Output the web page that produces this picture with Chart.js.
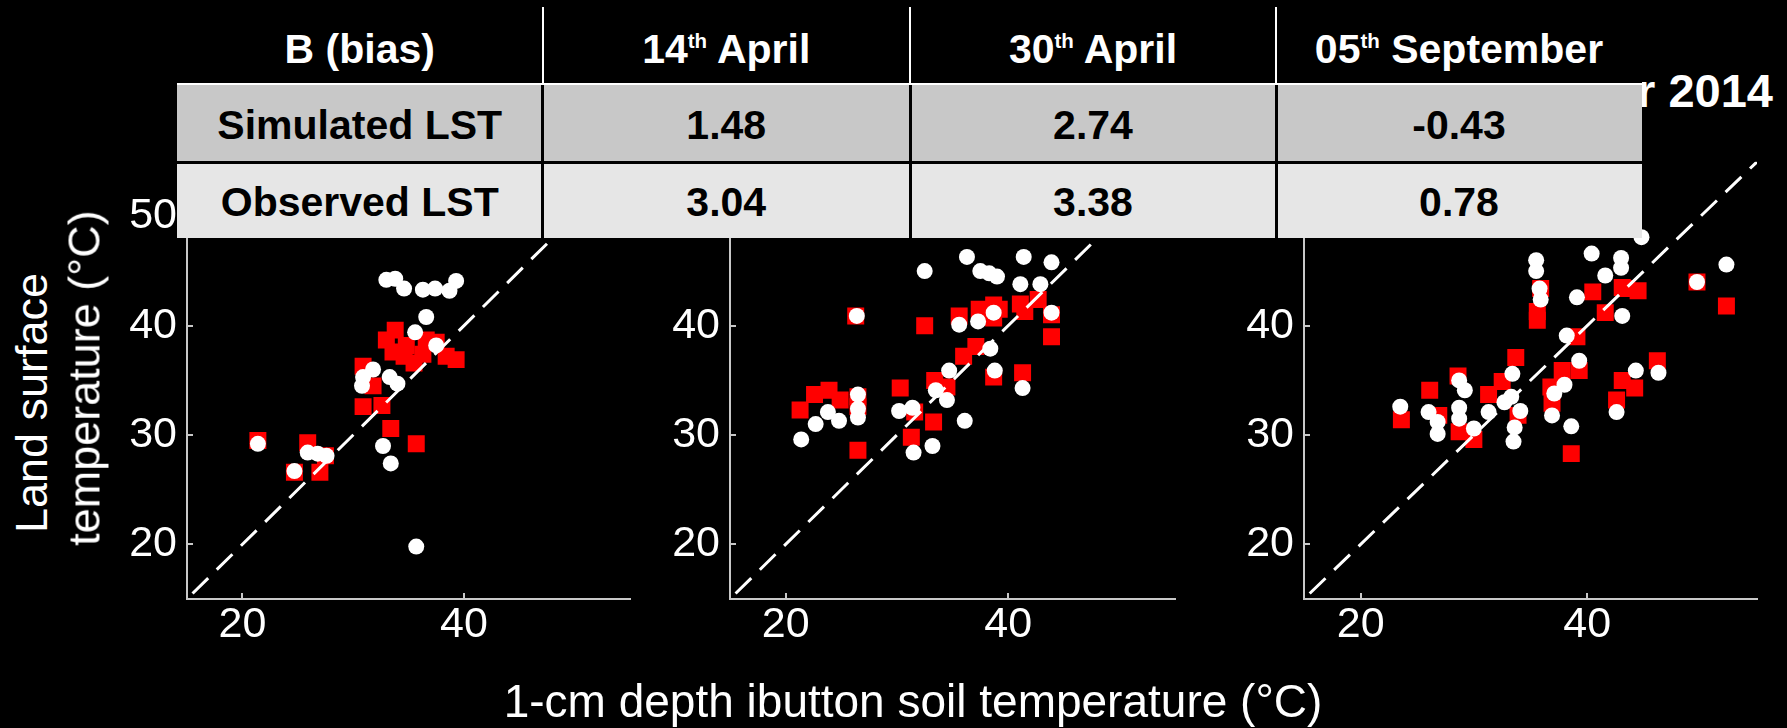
<!DOCTYPE html>
<html>
<head>
<meta charset="utf-8">
<title>LST vs ibutton soil temperature</title>
<script src="https://cdn.jsdelivr.net/npm/chart.js@4.4.0/dist/chart.umd.min.js"></script>
<style>
  html, body { margin: 0; padding: 0; background: #000; }
  body { width: 1787px; height: 728px; position: relative; overflow: hidden; font-family: "Liberation Sans", Arial, sans-serif; }
  canvas.panel { position: absolute; }
  .txt { position: absolute; color: #fff; white-space: nowrap; line-height: 1; }
  #bias { position: absolute; left: 0; top: 0; width: 1787px; height: 240px; z-index: 5; }
  #bias div { position: absolute; }
  #bias .cell { display: flex; align-items: center; justify-content: center; font-weight: bold; font-size: 41px; line-height: 1; white-space: nowrap; }
  #bias .cell sup { font-size: 0.5em; vertical-align: 0.74em; line-height: 0; }
</style>
</head>
<body>

<canvas id="p1" class="panel"></canvas>
<canvas id="p2" class="panel"></canvas>
<canvas id="p3" class="panel"></canvas>

<div class="txt" id="title3" style="right:14px; top:67px; font-size:47px; font-weight:bold;"></div>
<div class="txt" id="ytitle1" style="left:31px; top:403px; font-size:45px; transform:translate(-50%,-50%) rotate(-90deg);"></div>
<div class="txt" id="ytitle2" style="left:84px; top:378px; font-size:45px; transform:translate(-50%,-50%) rotate(-90deg);"></div>
<div class="txt" id="xtitle" style="left:913px; top:678px; font-size:46px; transform:translateX(-50%);"></div>

<div id="bias"></div>

<script>
// axis ticks
const xTicks = [20, 40];
const yTicks = [20, 30, 40, 50];
const axisMin = 15;
const axisMax = 55;

// 1:1 line
const diagX = [15.5, 55];
const diagY = [15.5, 55];

// 14 April - white dots (observed LST)
const apr14ObsX = [21.4, 24.7, 25.9, 26.8, 27.6, 32.7, 33.4, 35.7, 30.8, 30.9, 31.8, 33.3, 34.0, 35.6, 36.6, 37.5, 33.0, 33.8, 34.6, 36.3, 37.4, 38.7, 39.3];
const apr14ObsY = [29.2, 26.7, 28.4, 28.3, 28.1, 29.0, 27.4, 19.8, 34.5, 35.3, 36.0, 35.3, 34.7, 39.4, 40.8, 38.2, 44.2, 44.3, 43.4, 43.3, 43.4, 43.2, 44.1];
// 14 April - red squares (simulated LST)
const apr14SimX = [21.4, 25.9, 24.7, 27.0, 27.5, 30.9, 31.8, 30.9, 32.6, 33.4, 35.7, 33.8, 33.0, 33.6, 34.6, 35.5, 36.6, 37.5, 38.4, 39.3, 34.8, 36.3];
const apr14SimY = [29.5, 29.3, 26.6, 26.6, 28.1, 36.3, 34.5, 32.6, 32.7, 30.6, 29.2, 39.6, 38.7, 37.6, 37.2, 36.6, 38.7, 38.5, 37.2, 36.9, 38.2, 37.4];

// 30 April
const apr30ObsX = [21.4, 22.7, 23.8, 24.8, 26.5, 26.5, 26.5, 26.4, 30.2, 31.4, 31.5, 33.2, 33.5, 34.5, 34.7, 36.1, 35.6, 37.3, 38.7, 38.4, 38.8, 41.3, 43.9, 32.5, 36.3, 37.5, 38.3, 39.0, 41.1, 41.4, 42.9, 43.9];
const apr30ObsY = [29.6, 31.0, 32.1, 31.3, 33.7, 32.4, 31.6, 40.9, 32.2, 32.5, 28.4, 29.0, 34.1, 33.2, 35.9, 31.3, 40.1, 40.4, 41.2, 37.9, 35.9, 34.3, 41.2, 45.0, 46.3, 45.0, 44.8, 44.5, 43.8, 46.3, 43.8, 45.8];
const apr30SimX = [21.3, 22.6, 23.9, 24.9, 26.5, 26.5, 26.3, 26.5, 30.3, 31.6, 31.3, 33.3, 32.5, 33.4, 34.5, 35.6, 36.0, 37.1, 37.4, 38.7, 39.2, 38.7, 38.7, 41.1, 41.5, 42.7, 43.9, 43.9, 41.3];
const apr30SimY = [32.3, 33.7, 34.1, 33.2, 33.5, 32.6, 40.9, 28.6, 34.3, 32.1, 29.8, 31.2, 40.0, 35.0, 34.4, 40.9, 37.2, 38.1, 41.5, 41.9, 41.5, 40.7, 35.3, 42.0, 41.3, 42.4, 41.0, 39.0, 35.7];

// 05 September
const sep05ObsX = [23.5, 26.0, 26.8, 26.8, 28.7, 29.2, 28.7, 28.7, 30.0, 31.3, 32.7, 33.3, 33.4, 34.1, 33.6, 33.5, 36.9, 37.1, 38.0, 38.6, 39.3, 38.2, 39.1, 41.6, 43.1, 42.6, 44.3, 46.3, 49.7, 35.5, 35.5, 35.8, 35.9, 43.0, 43.0, 40.4, 44.8, 52.3];
const sep05ObsY = [32.6, 32.1, 31.2, 30.1, 35.0, 34.1, 32.5, 31.5, 30.6, 32.1, 33.0, 33.5, 35.6, 32.2, 30.7, 29.4, 31.8, 33.8, 34.6, 30.8, 36.8, 39.1, 42.6, 44.6, 40.9, 32.1, 35.9, 35.7, 44.0, 46.0, 45.0, 43.4, 42.4, 45.3, 46.2, 46.6, 48.1, 45.6];
const sep05SimX = [23.6, 26.1, 26.9, 28.6, 28.7, 30.0, 31.3, 32.5, 33.7, 33.9, 36.8, 36.9, 37.8, 39.3, 38.6, 39.1, 40.5, 35.6, 35.6, 35.9, 41.6, 43.1, 44.5, 42.6, 43.1, 44.2, 46.2, 49.7, 52.3, 43.5];
const sep05SimY = [31.4, 34.1, 31.8, 35.4, 30.3, 29.6, 33.7, 34.9, 37.1, 31.8, 34.4, 32.9, 35.9, 35.9, 28.3, 39.0, 43.1, 41.3, 40.5, 43.4, 41.2, 43.5, 43.2, 33.2, 35.0, 34.3, 36.8, 44.0, 41.8, 43.4];

// bias table
const biasHeader = ['B (bias)', '14<sup>th</sup> April', '30<sup>th</sup> April', '05<sup>th</sup> September'];
const biasRows = ['Simulated LST', 'Observed LST'];
const biasSim = [1.48, 2.74, -0.43];
const biasObs = [3.04, 3.38, 0.78];

const panelTitle = '05 September 2014';
const yTitle = ['Land surface', 'temperature (\u00b0C)'];
const xTitle = '1-cm depth ibutton soil temperature (\u00b0C)';

// plot area of each panel (left, right) in page pixels
const panelBox = [[187, 632], [730, 1177], [1304, 1759]];
const plotTop = 147, plotBottom = 599;
const yAxisW = 90, xAxisH = 90, canvasTop = 120;

const FONT = '"Liberation Sans", Arial, sans-serif';
const AXIS = '#c8c8c8';

function pairs(xs, ys) {
  return xs.map((x, i) => ({ x: x, y: ys[i] }));
}

function axis(pos, ticks) {
  return {
    type: 'linear',
    position: pos,
    min: axisMin,
    max: axisMax,
    afterBuildTicks: s => { s.ticks = ticks.map(v => ({ value: v })); },
    afterFit: s => {
      if (pos === 'left') s.width = yAxisW; else s.height = xAxisH;
    },
    border: { display: true, color: AXIS, width: 2 },
    grid: { display: true, drawOnChartArea: false, drawTicks: true, tickLength: -6, color: AXIS, lineWidth: 2 },
    ticks: {
      color: '#ffffff',
      font: { family: FONT, size: 43 },
      padding: pos === 'left' ? 16 : 6,
      maxRotation: 0,
      autoSkip: false
    }
  };
}

function makePanel(idx, obsX, obsY, simX, simY) {
  const cv = document.getElementById('p' + (idx + 1));
  const [l, r] = panelBox[idx];
  const w = r - l + yAxisW + 10;
  const h = plotBottom + xAxisH - canvasTop;
  cv.width = w;
  cv.height = h;
  cv.style.left = (l - yAxisW) + 'px';
  cv.style.top = canvasTop + 'px';
  cv.style.width = w + 'px';
  cv.style.height = h + 'px';

  return new Chart(cv, {
    type: 'scatter',
    data: {
      datasets: [
        {
          label: '1:1',
          data: pairs(diagX, diagY),
          showLine: true,
          borderColor: '#ffffff',
          borderWidth: 3,
          borderDash: [22, 12],
          pointRadius: 0,
          order: 0
        },
        {
          label: 'Observed LST',
          data: pairs(obsX, obsY),
          pointStyle: 'circle',
          pointRadius: 8,
          backgroundColor: '#ffffff',
          borderWidth: 0,
          order: 1
        },
        {
          label: 'Simulated LST',
          data: pairs(simX, simY),
          pointStyle: 'rect',
          pointRadius: 12,
          backgroundColor: '#ff0000',
          borderWidth: 0,
          order: 2
        }
      ]
    },
    options: {
      responsive: false,
      animation: false,
      devicePixelRatio: 1,
      layout: { padding: { top: plotTop - canvasTop, right: 10, left: 0, bottom: 0 } },
      plugins: { legend: { display: false }, tooltip: { enabled: false } },
      scales: {
        x: axis('bottom', xTicks),
        y: axis('left', yTicks)
      }
    }
  });
}

function buildTable() {
  const t = document.getElementById('bias');
  const edges = [177, 542.5, 910, 1276, 1642];
  const add = (css, html) => {
    const d = document.createElement('div');
    d.style.cssText = css;
    if (html !== undefined) d.innerHTML = html;
    t.appendChild(d);
    return d;
  };
  const left = edges[0], right = edges[edges.length - 1];
  // backgrounds
  add(`left:${left}px;top:0;width:${right - left}px;height:83px;background:#000;`);
  add(`left:${left}px;top:83px;width:${right - left}px;height:2px;background:#fff;`);
  add(`left:${left}px;top:85px;width:${right - left}px;height:76px;background:#c8c8c8;`);
  add(`left:${left}px;top:161px;width:${right - left}px;height:3px;background:#000;`);
  add(`left:${left}px;top:164px;width:${right - left}px;height:74px;background:#e6e6e6;`);
  // column separators
  for (let i = 1; i < edges.length - 1; i++) {
    add(`left:${edges[i] - 1}px;top:7px;width:2px;height:76px;background:#fff;`);
    add(`left:${edges[i] - 1.5}px;top:85px;width:3px;height:153px;background:#000;`);
  }
  const rowVals = [biasSim, biasObs];
  const rowTop = [87, 164];
  for (let c = 0; c < 4; c++) {
    const cl = edges[c], cw = edges[c + 1] - edges[c];
    add(`left:${cl}px;top:14px;width:${cw}px;height:70px;color:#fff;`, '<span>' + biasHeader[c] + '</span>').className = 'cell';
    for (let r = 0; r < 2; r++) {
      const txt = c === 0 ? biasRows[r] : rowVals[r][c - 1].toFixed(2);
      add(`left:${cl}px;top:${rowTop[r]}px;width:${cw}px;height:76px;color:#000;`, txt).className = 'cell';
    }
  }
}

document.addEventListener('DOMContentLoaded', () => {
  makePanel(0, apr14ObsX, apr14ObsY, apr14SimX, apr14SimY);
  makePanel(1, apr30ObsX, apr30ObsY, apr30SimX, apr30SimY);
  makePanel(2, sep05ObsX, sep05ObsY, sep05SimX, sep05SimY);

  document.getElementById('title3').textContent = panelTitle;
  document.getElementById('ytitle1').textContent = yTitle[0];
  document.getElementById('ytitle2').textContent = yTitle[1];
  document.getElementById('xtitle').textContent = xTitle;

  buildTable();
});
</script>
</body>
</html>
